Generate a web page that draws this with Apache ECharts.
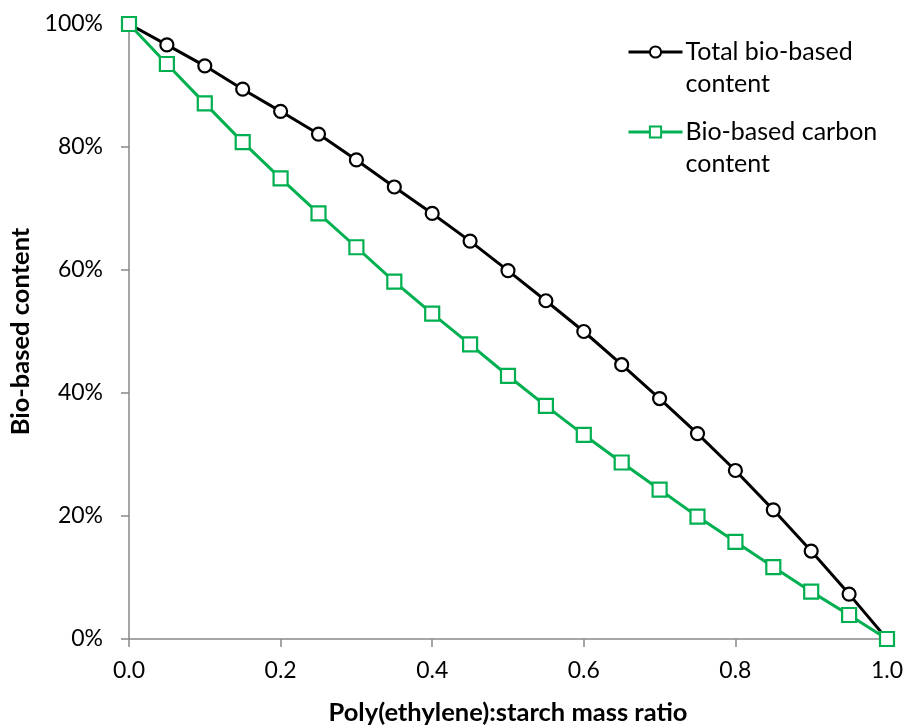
<!DOCTYPE html>
<html>
<head>
<meta charset="utf-8">
<script src="https://cdn.jsdelivr.net/npm/echarts@6/dist/echarts.min.js"></script>
<style>html,body{margin:0;padding:0;background:#fff}#c{width:906px;height:726px}</style>
</head>
<body>
<div id="c"></div>
<script>
const ratios = [0,0.05,0.1,0.15,0.2,0.25,0.3,0.35,0.4,0.45,0.5,0.55,0.6,0.65,0.7,0.75,0.8,0.85,0.9,0.95,1.0];
const totalBio = [100,96.6,93.2,89.4,85.8,82.1,77.9,73.5,69.2,64.7,59.9,55.0,50.0,44.6,39.1,33.4,27.4,21.0,14.3,7.3,0];
const carbonBio = [100,93.5,87.1,80.8,74.9,69.2,63.7,58.1,52.9,47.9,42.8,37.9,33.2,28.7,24.3,19.9,15.8,11.7,7.7,3.9,0];
const seriesNames = ['Total bio-based\ncontent','Bio-based carbon\ncontent'];
const xTitle = 'Poly(ethylene):starch mass ratio';
const yTitle = 'Bio-based content';

const font = 'Lato, "Open Sans", sans-serif';
const chart = echarts.init(document.getElementById('c'), null, {renderer:'canvas'});
const axisGray = '#898989';
chart.setOption({
  animation:false,
  backgroundColor:'#fff',
  grid:{left:129,right:19,top:24,bottom:87,containLabel:false,outerBoundsMode:'none'},
  legend:{
    orient:'vertical', left:627, top:-28, padding:0,
    itemWidth:54, itemHeight:14, itemGap:-80,
    lineStyle:{width:3},
    formatter:n=>'\n\n'+n+'\n',
    textStyle:{fontFamily:font,fontSize:25,color:'#000',lineHeight:32,padding:[0,0,0,-2]},
    data:seriesNames
  },
  xAxis:{
    type:'value', min:0, max:1, interval:0.2,
    name:xTitle, nameLocation:'middle', nameGap:61,
    nameTextStyle:{fontFamily:font,fontSize:25.5,fontWeight:'bold',color:'#000'},
    axisLine:{show:true,lineStyle:{color:axisGray,width:1.5}},
    axisTick:{show:true,length:8,lineStyle:{color:axisGray,width:1.5}},
    axisLabel:{fontFamily:font,fontSize:23,color:'#000',margin:20,formatter:v=>v.toFixed(1)},
    splitLine:{show:false}
  },
  yAxis:{
    type:'value', min:0, max:100, interval:20,
    name:yTitle, nameLocation:'middle', nameGap:94, nameRotate:90,
    nameTextStyle:{fontFamily:font,fontSize:25.5,fontWeight:'bold',color:'#000'},
    axisLine:{show:true,lineStyle:{color:axisGray,width:1.5}},
    axisTick:{show:true,length:8,lineStyle:{color:axisGray,width:1.5}},
    axisLabel:{fontFamily:font,fontSize:23,color:'#000',margin:26,formatter:'{value}%'},
    splitLine:{show:false}
  },
  series:[
    {
      name:seriesNames[0], type:'line',
      data:ratios.map((x,i)=>[x,totalBio[i]]),
      symbol:'circle', symbolSize:13, showAllSymbol:true,
      lineStyle:{color:'#000',width:3},
      itemStyle:{color:'#fff',borderColor:'#000',borderWidth:2.2},
      z:2
    },
    {
      name:seriesNames[1], type:'line',
      data:ratios.map((x,i)=>[x,carbonBio[i]]),
      symbol:'rect', symbolSize:14, showAllSymbol:true,
      lineStyle:{color:'#00b050',width:3},
      itemStyle:{color:'#fff',borderColor:'#00b050',borderWidth:2.2},
      z:3
    }
  ]
});
</script>
</body>
</html>
